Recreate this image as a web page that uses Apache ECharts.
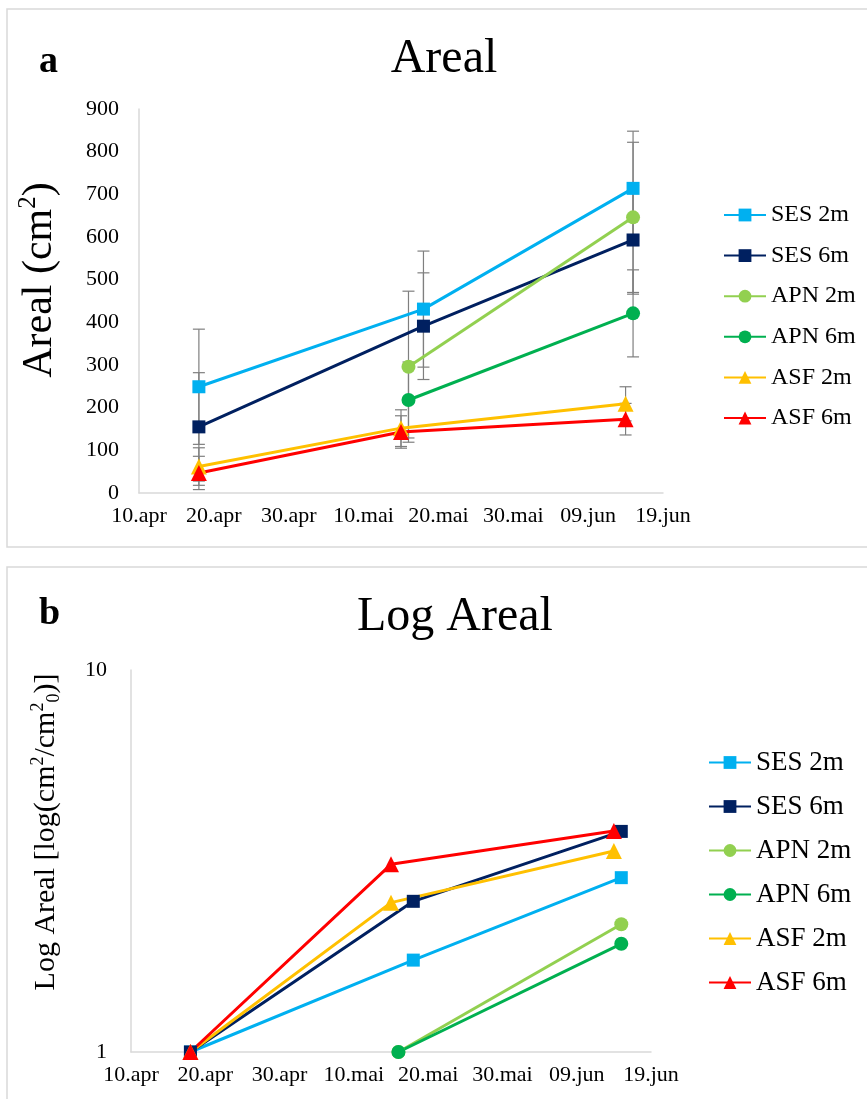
<!DOCTYPE html>
<html>
<head>
<meta charset="utf-8">
<script src="https://cdn.jsdelivr.net/npm/echarts@6/dist/echarts.min.js"></script>
<style>
html,body{margin:0;padding:0;background:#fff;}
#chart{width:867px;height:1099px;}
</style>
</head>
<body>
<div id="chart"></div>
<script>
// ---- Data ----
const tickLabels = ['10.apr','20.apr','30.apr','10.mai','20.mai','30.mai','09.jun','19.jun'];
const seriesNames = ['SES 2m','SES 6m','APN 2m','APN 6m','ASF 2m','ASF 6m'];

const sesDates = ['04-18','05-18','06-15'];
const apnDates = ['05-16','06-15'];
const asfDates = ['04-18','05-15','06-14'];

// Panel a: Areal (cm2), with error bar half-widths
const ses2m = [249, 431, 714];   const ses2mErr = [135, 136, 134];
const ses6m = [155, 391, 593];   const ses6mErr = [127, 125, 127];
const apn2m = [296, 646];        const apn2mErr = [177, 176];
const apn6m = [218, 421];        const apn6mErr = [89, 102];
const asf2m = [62, 152, 209];    const asf2mErr = [44, 43, 40];
const asf6m = [47, 143, 173];    const asf6mErr = [39, 38, 37];

// Panel b: Log Areal (relative)
const ses2mLog = [1, 1.74, 2.86];
const ses6mLog = [1, 2.48, 3.78];
const apn2mLog = [1, 2.16];
const apn6mLog = [1, 1.92];
const asf2mLog = [1, 2.46, 3.36];
const asf6mLog = [1, 3.10, 3.79];

// ---- Helpers ----
const DAY0 = Date.UTC(2021, 3, 10);
function dayIndex(md) {
  const [m, d] = md.split('-').map(Number);
  return Math.round((Date.UTC(2021, m - 1, d) - DAY0) / 86400000);
}
const FONT = "'Liberation Serif', 'Times New Roman', serif";

const groups = [
  { name: seriesNames[0], dates: sesDates, vals: ses2m, err: ses2mErr, logv: ses2mLog, color: '#00B0F0', symbol: 'rect', size: 13 },
  { name: seriesNames[1], dates: sesDates, vals: ses6m, err: ses6mErr, logv: ses6mLog, color: '#002060', symbol: 'rect', size: 13 },
  { name: seriesNames[2], dates: apnDates, vals: apn2m, err: apn2mErr, logv: apn2mLog, color: '#92D050', symbol: 'circle', size: 14 },
  { name: seriesNames[3], dates: apnDates, vals: apn6m, err: apn6mErr, logv: apn6mLog, color: '#00B050', symbol: 'circle', size: 14 },
  { name: seriesNames[4], dates: asfDates, vals: asf2m, err: asf2mErr, logv: asf2mLog, color: '#FFC000', symbol: 'triangle', size: 16 },
  { name: seriesNames[5], dates: asfDates, vals: asf6m, err: asf6mErr, logv: asf6mLog, color: '#FF0000', symbol: 'triangle', size: 16 }
];

const series = [];
// error bars (panel a)
groups.forEach(g => {
  series.push({
    type: 'custom',
    name: g.name + ' err',
    xAxisIndex: 0, yAxisIndex: 0,
    z: 1,
    silent: true,
    encode: { x: 0, y: [1, 2] },
    data: g.dates.map((d, i) => [dayIndex(d), g.vals[i] - g.err[i], g.vals[i] + g.err[i]]),
    renderItem: function (params, api) {
      const x = api.value(0);
      const lo = api.coord([x, api.value(1)]);
      const hi = api.coord([x, api.value(2)]);
      const w = 6;
      const st = { stroke: '#7F7F7F', lineWidth: 1.2 };
      return {
        type: 'group',
        children: [
          { type: 'line', shape: { x1: lo[0], y1: lo[1], x2: hi[0], y2: hi[1] }, style: st },
          { type: 'line', shape: { x1: hi[0] - w, y1: hi[1], x2: hi[0] + w, y2: hi[1] }, style: st },
          { type: 'line', shape: { x1: lo[0] - w, y1: lo[1], x2: lo[0] + w, y2: lo[1] }, style: st }
        ]
      };
    }
  });
});
// lines panel a
groups.forEach(g => {
  series.push({
    type: 'line', name: g.name,
    xAxisIndex: 0, yAxisIndex: 0, z: 3,
    data: g.dates.map((d, i) => [dayIndex(d), g.vals[i]]),
    symbol: g.symbol, symbolSize: g.size,
    lineStyle: { width: 3, color: g.color },
    itemStyle: { color: g.color },
    emphasis: { disabled: true },
    animation: false
  });
});
// lines panel b
groups.forEach(g => {
  series.push({
    type: 'line', name: g.name,
    xAxisIndex: 1, yAxisIndex: 1, z: 3,
    data: g.dates.map((d, i) => [dayIndex(d), g.logv[i]]),
    symbol: g.symbol, symbolSize: g.size,
    lineStyle: { width: 3, color: g.color },
    itemStyle: { color: g.color },
    emphasis: { disabled: true },
    animation: false
  });
});

const axisLabelStyle = { color: '#000', fontFamily: FONT, fontSize: 22 };
function xAxisDef(gridIndex) {
  return {
    type: 'value', gridIndex, min: 0, max: 70, interval: 10,
    axisLine: { show: true, lineStyle: { color: '#D9D9D9', width: 1.5 } },
    axisTick: { show: false },
    splitLine: { show: false },
    axisLabel: Object.assign({ margin: 12, formatter: v => tickLabels[Math.round(v / 10)] }, axisLabelStyle)
  };
}

const option = {
  backgroundColor: '#fff',
  animation: false,
  graphic: [
    { type: 'rect', shape: { x: 7, y: 9, width: 880, height: 538 }, style: { fill: 'none', stroke: '#D9D9D9', lineWidth: 1.5 }, z: 0 },
    { type: 'rect', shape: { x: 7, y: 567, width: 880, height: 560 }, style: { fill: 'none', stroke: '#D9D9D9', lineWidth: 1.5 }, z: 0 },
    { type: 'text', left: 39, top: 43, style: { text: 'a', font: "bold 38px " + FONT, fill: '#000' } },
    { type: 'text', left: 39, top: 595, style: { text: 'b', font: "bold 38px " + FONT, fill: '#000' } },
    { type: 'text', x: 444, y: 59, style: { text: 'Areal', font: "48px " + FONT, fill: '#000', align: 'center', verticalAlign: 'middle' } },
    { type: 'text', x: 455, y: 617, style: { text: 'Log Areal', font: "48px " + FONT, fill: '#000', align: 'center', verticalAlign: 'middle' } },
    { type: 'text', x: 40, y: 280, rotation: Math.PI / 2,
      style: {
        text: '{a|Areal (cm}{s|2}{a|)}', align: 'center', verticalAlign: 'middle', fill: '#000',
        rich: {
          a: { fontFamily: FONT, fontSize: 42, lineHeight: 48, fill: '#000' },
          s: { fontFamily: FONT, fontSize: 25, lineHeight: 48, verticalAlign: 'top', fill: '#000' }
        }
      } },
    { type: 'text', x: 46, y: 832, rotation: Math.PI / 2,
      style: {
        text: '{a|Log Areal [log(cm}{s|2}{a|/cm}{s|2}{b|0}{a|)]}', align: 'center', verticalAlign: 'middle', fill: '#000',
        rich: {
          a: { fontFamily: FONT, fontSize: 30, lineHeight: 34, fill: '#000' },
          s: { fontFamily: FONT, fontSize: 18, lineHeight: 34, verticalAlign: 'top', fill: '#000' },
          b: { fontFamily: FONT, fontSize: 18, lineHeight: 28, verticalAlign: 'bottom', fill: '#000' }
        }
      } }
  ],
  grid: [
    { left: 139, right: 204, top: 109, bottom: 606 },
    { left: 131, right: 216, top: 670, bottom: 47 }
  ],
  xAxis: [xAxisDef(0), xAxisDef(1)],
  yAxis: [
    {
      type: 'value', gridIndex: 0, min: 0, max: 900, interval: 100,
      axisLine: { show: true, lineStyle: { color: '#D9D9D9', width: 1.5 } },
      axisTick: { show: false }, splitLine: { show: false },
      axisLabel: Object.assign({ margin: 20 }, axisLabelStyle)
    },
    {
      type: 'log', gridIndex: 1, min: 1, max: 10, logBase: 10,
      axisLine: { show: true, lineStyle: { color: '#D9D9D9', width: 1.5 } },
      axisTick: { show: false }, splitLine: { show: false }, minorTick: { show: false },
      axisLabel: Object.assign({ margin: 24 }, axisLabelStyle)
    }
  ],
  legend: [
    {
      orient: 'vertical', left: 723, top: 203, padding: 0,
      itemWidth: 42, itemHeight: 16, itemGap: 16.6,
      data: seriesNames, selectedMode: false,
      textStyle: { fontFamily: FONT, fontSize: 24, lineHeight: 24, color: '#000' }
    },
    {
      orient: 'vertical', left: 708, top: 749, padding: 0,
      itemWidth: 42, itemHeight: 16, itemGap: 17,
      data: seriesNames, selectedMode: false,
      textStyle: { fontFamily: FONT, fontSize: 27, lineHeight: 27, color: '#000' }
    }
  ],
  series
};

const chart = echarts.init(document.getElementById('chart'), null, { renderer: 'canvas' });
chart.setOption(option);
</script>
</body>
</html>
